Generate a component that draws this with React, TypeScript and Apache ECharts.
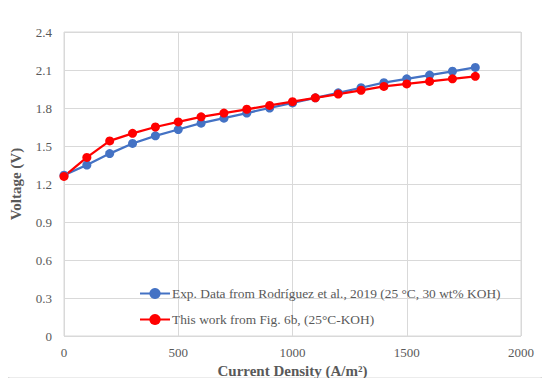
import React, { useEffect, useRef } from "react";
import * as echarts from "echarts";

const currentDensity = [0, 100, 200, 300, 400, 500, 600, 700, 800, 900, 1000, 1100, 1200, 1300, 1400, 1500, 1600, 1700, 1800];
const expVoltage = [1.27, 1.35, 1.44, 1.52, 1.58, 1.63, 1.68, 1.72, 1.76, 1.80, 1.84, 1.88, 1.92, 1.96, 2.00, 2.03, 2.06, 2.09, 2.12];
const workVoltage = [1.26, 1.41, 1.54, 1.60, 1.65, 1.69, 1.73, 1.76, 1.79, 1.82, 1.85, 1.88, 1.91, 1.94, 1.97, 1.99, 2.01, 2.03, 2.05];
const expName = "Exp. Data from Rodríguez et al., 2019 (25 °C, 30 wt% KOH)";
const workName = "This work from Fig. 6b, (25°C-KOH)";

const FONT = "'Liberation Serif', 'DejaVu Serif', serif";

export default function App() {
  const ref = useRef<HTMLDivElement>(null);
  useEffect(() => {
    if (!ref.current) return;
    const chart = echarts.init(ref.current, undefined, { renderer: "svg" });
    chart.setOption({
      animation: false,
      backgroundColor: "#fff",
      textStyle: { fontFamily: FONT },
      graphic: [
        {
          type: "rect",
          shape: { x: 7, y: 5, width: 536, height: 373, r: 3 },
          style: { fill: "none", stroke: "#d9d9d9", lineWidth: 1 },
          silent: true,
        },
      ],
      grid: {
        left: 64,
        right: 29,
        top: 32,
        bottom: 50,
        show: true,
        borderColor: "#d9d9d9",
        borderWidth: 1,
      },
      legend: {
        orient: "vertical",
        left: 139,
        top: 287,
        padding: 0,
        itemWidth: 30,
        itemHeight: 14,
        itemGap: 13,
        textStyle: { fontFamily: FONT, fontSize: 13.4, color: "#595959", padding: [0, 0, 0, -3] },
        data: [expName, workName],
      },
      xAxis: {
        type: "value",
        min: 0,
        max: 2000,
        interval: 500,
        name: "Current Density (A/m²)",
        nameLocation: "middle",
        nameGap: 24,
        nameTextStyle: { fontFamily: FONT, fontSize: 15, fontWeight: "bold", color: "#595959" },
        axisLine: { show: false },
        axisTick: { show: false },
        axisLabel: { fontFamily: FONT, fontSize: 13, color: "#595959", margin: 10, formatter: (v: number) => String(v) },
        splitLine: { show: true, lineStyle: { color: "#d9d9d9", width: 1 } },
      },
      yAxis: {
        type: "value",
        min: 0,
        max: 2.4,
        interval: 0.3,
        name: "Voltage (V)",
        nameLocation: "middle",
        nameGap: 41,
        nameTextStyle: { fontFamily: FONT, fontSize: 15, fontWeight: "bold", color: "#595959" },
        axisLine: { show: false },
        axisTick: { show: false },
        axisLabel: {
          fontFamily: FONT,
          fontSize: 13,
          color: "#595959",
          margin: 12,
          formatter: (v: number) => (v === 0 ? "0" : v.toFixed(1)),
        },
        splitLine: { show: true, lineStyle: { color: "#d9d9d9", width: 1 } },
      },
      series: [
        {
          name: expName,
          type: "line",
          data: currentDensity.map((x, i) => [x, expVoltage[i]]),
          symbol: "circle",
          symbolSize: 9,
          itemStyle: { color: "#4472c4" },
          lineStyle: { color: "#4472c4", width: 2.25 },
        },
        {
          name: workName,
          type: "line",
          data: currentDensity.map((x, i) => [x, workVoltage[i]]),
          symbol: "circle",
          symbolSize: 9,
          itemStyle: { color: "#ff0000" },
          lineStyle: { color: "#ff0000", width: 2.25 },
        },
      ],
    });
    return () => chart.dispose();
  }, []);
  return <div ref={ref} style={{ width: 550, height: 386, margin: -8 }} />;
}
